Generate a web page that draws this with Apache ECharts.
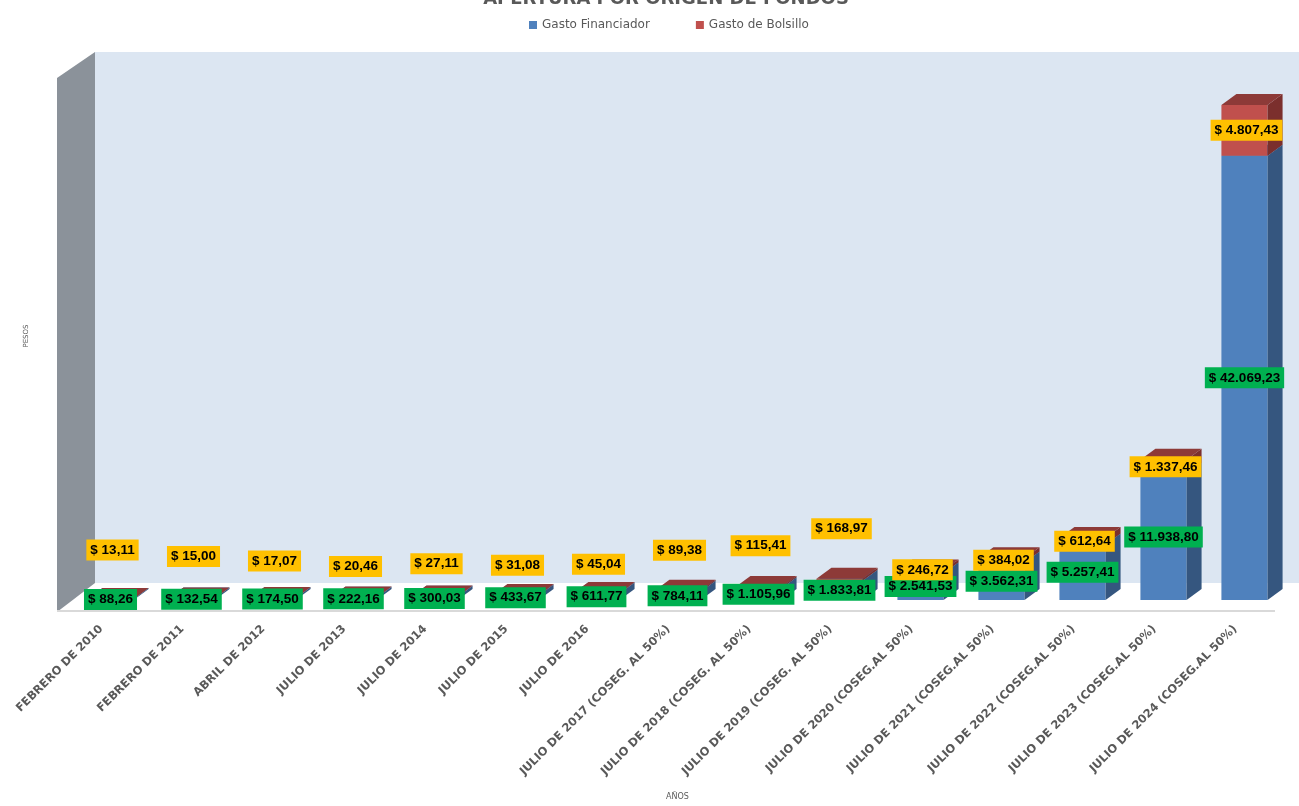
<!DOCTYPE html>
<html><head><meta charset="utf-8">
<script src="https://cdn.jsdelivr.net/npm/echarts@6/dist/echarts.min.js"></script>
<style>html,body{margin:0;padding:0;background:#fff}#c{width:1299px;height:806px}</style>
</head><body><div id="c"></div>
<script>
const categories = ['FEBRERO DE 2010','FEBRERO DE 2011','ABRIL DE 2012','JULIO DE 2013','JULIO DE 2014','JULIO DE 2015','JULIO DE 2016','JULIO DE 2017 (COSEG. AL 50%)','JULIO DE 2018 (COSEG. AL 50%)','JULIO DE 2019 (COSEG. AL 50%)','JULIO DE 2020 (COSEG.AL 50%)','JULIO DE 2021 (COSEG.AL 50%)','JULIO DE 2022 (COSEG.AL 50%)','JULIO DE 2023 (COSEG.AL 50%)','JULIO DE 2024 (COSEG.AL 50%)'];
const gastoFinanciador = [88.26,132.54,174.50,222.16,300.03,433.67,611.77,784.11,1105.96,1833.81,2541.53,3562.31,5257.41,11938.80,42069.23];
const gastoBolsillo = [13.11,15.00,17.07,20.46,27.11,31.08,45.04,89.38,115.41,168.97,246.72,384.02,612.64,1337.46,4807.43];
const seriesNames = ['Gasto Financiador','Gasto de Bolsillo'];
const chartTitle = 'APERTURA POR ORIGEN DE FONDOS';
const xName = 'AÑOS';
const yName = 'PESOS';
// label nudges in px (labels moved by hand in the original to avoid overlaps)
const bolsilloLabelDy = [-49,-42,-37,-31,-33,-30,-29,-41,-42,-51,-2,0,0,0,0];

function fmt(v){
  const s = v.toFixed(2).split('.');
  return '$ ' + s[0].replace(/\B(?=(\d{3})+(?!\d))/g,'.') + ',' + s[1];
}

const DX = 15, DY = 11, BAR_RATIO = 0.57;
const rows = categories.map((c,i)=>[i, gastoFinanciador[i], gastoBolsillo[i]]);

function barRender(kind){
  return function(params, api){
    const i = api.value(0);
    const b = api.value(1), r = api.value(2);
    const lo = kind===0 ? 0 : b;
    const hi = kind===0 ? b : b + r;
    const p0 = api.coord([i, lo]), p1 = api.coord([i, hi]);
    const bw = api.size([1,0])[0]*BAR_RATIO;
    const xl = p0[0]-bw/2, xr = p0[0]+bw/2;
    const yb = p0[1], yt = p1[1];
    const col = kind===0 ? {front:'#4f81bd', side:'#35567f', top:'#4573ab'} : {front:'#c0504d', side:'#7b2f2d', top:'#8d3a38'};
    const ch = [
      {type:'rect', shape:{x:xl, y:yt, width:bw, height:Math.max(yb-yt,0.5)}, style:{fill:col.front}},
      {type:'polygon', shape:{points:[[xr,yb],[xr,yt],[xr+DX,yt-DY],[xr+DX,yb-DY]]}, style:{fill:col.side}},
      {type:'polygon', shape:{points:[[xl,yt],[xr,yt],[xr+DX,yt-DY],[xl+DX,yt-DY]]}, style:{fill:col.top}}
    ];
    return {type:'group', children:ch};
  };
}

function labelRender(params, api){
  const i = api.value(0);
  const b = api.value(1), r = api.value(2);
  const p0 = api.coord([i,0]), p1 = api.coord([i,b]), p2 = api.coord([i,b+r]);
  const font = 'bold 13.5px "Liberation Sans"';
  return {type:'group', children:[
    {type:'text', x:p0[0], y:(p0[1]+p1[1])/2, style:{text:fmt(b), fill:'#000', font:font, backgroundColor:'#00b050', padding:[4,4,3,4], align:'center', verticalAlign:'middle'}},
    {type:'text', x:p0[0]+2, y:(p1[1]+p2[1])/2 + bolsilloLabelDy[i], style:{text:fmt(r), fill:'#000', font:font, backgroundColor:'#ffc000', padding:[4,4,3,4], align:'center', verticalAlign:'middle'}}
  ]};
}

const chart = echarts.init(document.getElementById('c'));
chart.setOption({
  animation:false,
  graphic:[
    {type:'rect', z:0, silent:true, shape:{x:95,y:52,width:1204,height:531}, style:{fill:'#dce6f2'}},
    {type:'polygon', z:0, silent:true, shape:{points:[[57,78],[95,52],[95,583],[57,612]]}, style:{fill:'#8b929a'}},
    {type:'line', z:0, silent:true, shape:{x1:57,y1:611,x2:1275,y2:611}, style:{stroke:'#d9d9d9', lineWidth:2}},
    {type:'text', z:10, style:{text:chartTitle, x:666, y:8, align:'center', verticalAlign:'bottom', font:'bold 18px "DejaVu Sans"', fill:'#595959'}}
  ],
  legend:{data:seriesNames, top:14, left:524, itemWidth:8, itemHeight:8, itemGap:46, icon:'rect',
    textStyle:{color:'#595959', fontSize:12, fontFamily:'DejaVu Sans'}},
  grid:{left:70, right:14, top:72, bottom:199},
  xAxis:{type:'category', data:categories, name:xName, nameLocation:'middle', nameGap:193,
    nameTextStyle:{fontSize:8, color:'#595959', fontFamily:'DejaVu Sans'},
    axisLine:{show:false}, axisTick:{show:false},
    axisLabel:{interval:0, rotate:45, margin:18, padding:[0,13,0,0], color:'#595959', fontSize:11.5, fontWeight:'bold', fontFamily:'DejaVu Sans'}},
  yAxis:{type:'value', min:0, max:50000, name:yName, nameLocation:'middle', nameGap:40,
    nameTextStyle:{fontSize:7, color:'#595959', fontFamily:'DejaVu Sans'},
    axisLine:{show:false}, axisTick:{show:false}, axisLabel:{show:false}, splitLine:{show:false}},
  series:[
    {name:seriesNames[0], type:'custom', z:2, itemStyle:{color:'#4f81bd'}, renderItem:barRender(0), data:rows, encode:{x:0,y:1}},
    {name:seriesNames[1], type:'custom', z:3, itemStyle:{color:'#c0504d'}, renderItem:barRender(1), data:rows, encode:{x:0,y:1}},
    {name:'labels', type:'custom', z:5, renderItem:labelRender, data:rows, encode:{x:0,y:1}}
  ]
});
</script></body></html>
